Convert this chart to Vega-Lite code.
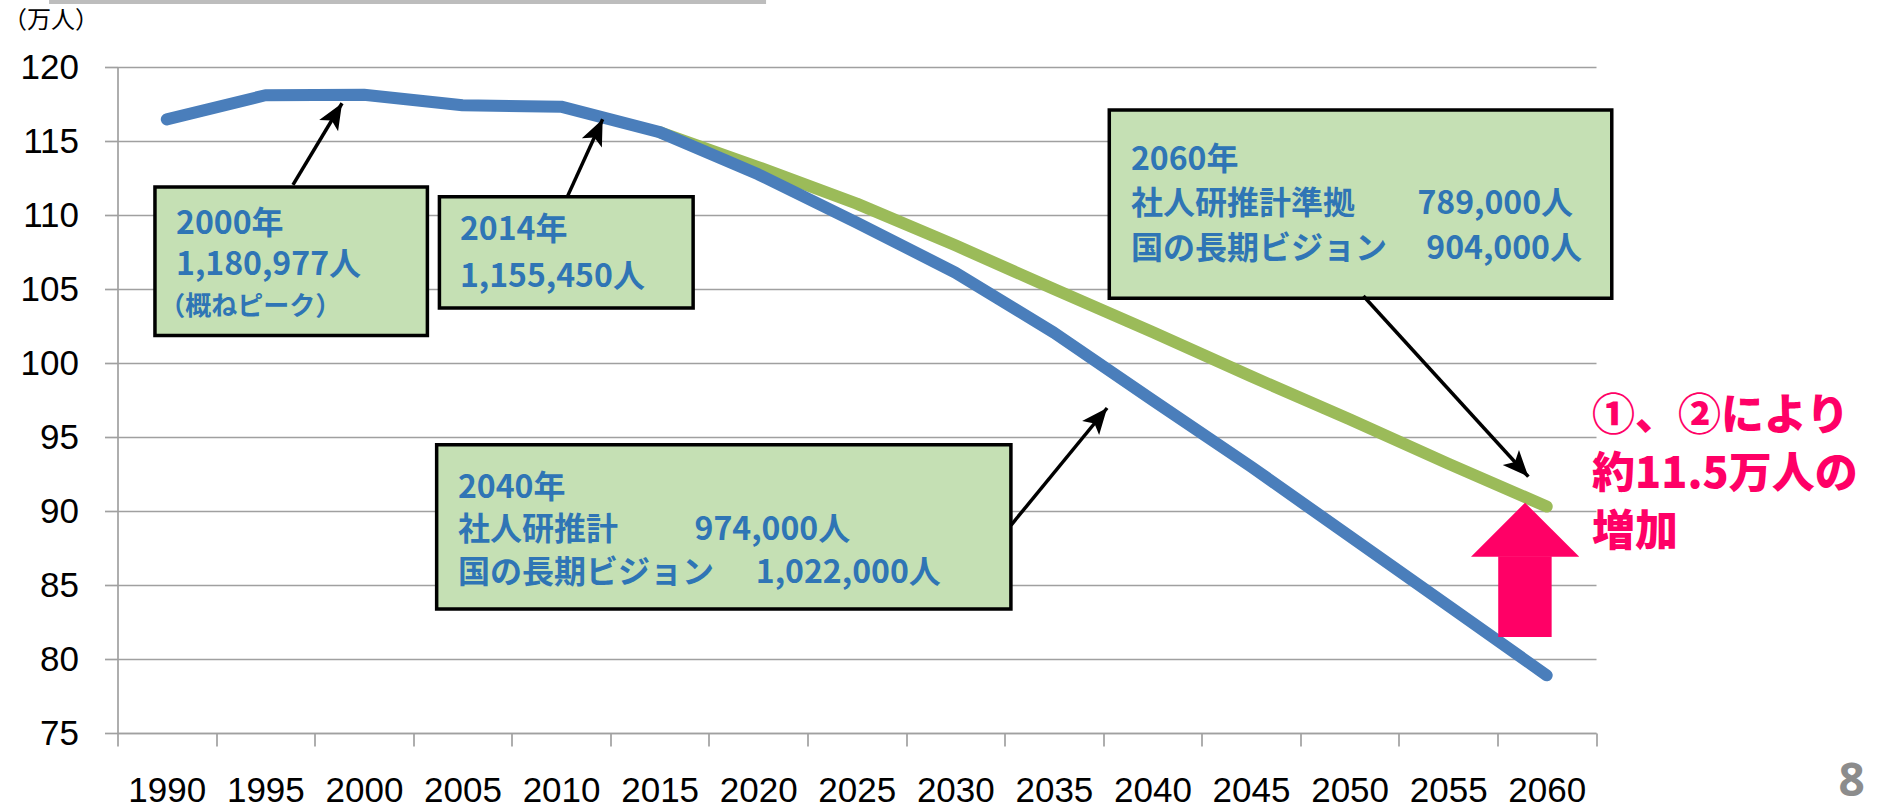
{
  "$schema": "https://vega.github.io/schema/vega-lite/v6.json",
  "width": 1478.5,
  "height": 666,
  "autosize": {"type": "none"},
  "padding": {"left": 117.5, "top": 67, "right": 284, "bottom": 76},
  "background": "white",
  "config": {"view": {"stroke": null}},
  "datasets": {
    "lines": [
      {"x": 1990, "y": 116.46, "s": "社人研推計"},
      {"x": 1995, "y": 118.09, "s": "社人研推計"},
      {"x": 2000, "y": 118.13, "s": "社人研推計"},
      {"x": 2005, "y": 117.41, "s": "社人研推計"},
      {"x": 2010, "y": 117.32, "s": "社人研推計"},
      {"x": 2015, "y": 115.6, "s": "社人研推計"},
      {"x": 2020, "y": 112.75, "s": "社人研推計"},
      {"x": 2025, "y": 109.49, "s": "社人研推計"},
      {"x": 2030, "y": 106.11, "s": "社人研推計"},
      {"x": 2035, "y": 102.05, "s": "社人研推計"},
      {"x": 2040, "y": 97.5, "s": "社人研推計"},
      {"x": 2045, "y": 93.0, "s": "社人研推計"},
      {"x": 2050, "y": 88.3, "s": "社人研推計"},
      {"x": 2055, "y": 83.6, "s": "社人研推計"},
      {"x": 2060, "y": 78.9, "s": "社人研推計"},
      {"x": 2015, "y": 115.6, "s": "国の長期ビジョン"},
      {"x": 2020, "y": 113.24, "s": "国の長期ビジョン"},
      {"x": 2025, "y": 110.77, "s": "国の長期ビジョン"},
      {"x": 2030, "y": 107.95, "s": "国の長期ビジョン"},
      {"x": 2035, "y": 105.0, "s": "国の長期ビジョン"},
      {"x": 2040, "y": 102.1, "s": "国の長期ビジョン"},
      {"x": 2045, "y": 99.1, "s": "国の長期ビジョン"},
      {"x": 2050, "y": 96.2, "s": "国の長期ビジョン"},
      {"x": 2055, "y": 93.2, "s": "国の長期ビジョン"},
      {"x": 2060, "y": 90.3, "s": "国の長期ビジョン"}
    ],
    "boxes": [
      {"x": 1989.40, "x2": 2003.22, "y": 111.89, "y2": 101.85},
      {"x": 2003.83, "x2": 2016.70, "y": 111.24, "y2": 103.72},
      {"x": 2037.81, "x2": 2063.30, "y": 117.09, "y2": 104.37},
      {"x": 2003.69, "x2": 2032.82, "y": 94.47, "y2": 83.38}
    ],
    "boxText": [
      {"x": 1990.47, "y": 109.39, "t": "2000年"},
      {"x": 1990.47, "y": 106.62, "t": "1,180,977人"},
      {"x": 2004.87, "y": 108.99, "t": "2014年"},
      {"x": 2004.87, "y": 105.81, "t": "1,155,450人"},
      {"x": 2038.91, "y": 113.75, "t": "2060年"},
      {"x": 2038.91, "y": 110.76, "t": "社人研推計準拠"},
      {"x": 2053.44, "y": 110.76, "t": "789,000人"},
      {"x": 2038.91, "y": 107.68, "t": "国の長期ビジョン"},
      {"x": 2053.89, "y": 107.68, "t": "904,000人"},
      {"x": 2004.77, "y": 91.55, "t": "2040年"},
      {"x": 2004.77, "y": 88.72, "t": "社人研推計"},
      {"x": 2016.77, "y": 88.72, "t": "974,000人"},
      {"x": 2004.77, "y": 85.81, "t": "国の長期ビジョン"},
      {"x": 2019.88, "y": 85.81, "t": "1,022,000人"}
    ],
    "noteText": [
      {"x": 1989.62, "y": 103.78, "t": "（概ねピーク）"}
    ],
    "arrows": [
      {"x": 1996.40, "y": 112.03, "x2": 1998.89, "y2": 117.55},
      {"x": 2010.32, "y": 111.24, "x2": 2012.11, "y2": 116.47},
      {"x": 2032.83, "y": 89.05, "x2": 2037.70, "y2": 96.96},
      {"x": 2050.70, "y": 104.53, "x2": 2059.07, "y2": 92.32}
    ],
    "pinkShaft": [
      {"x": 2057.54, "x2": 2060.25, "y": 86.95, "y2": 81.49}
    ],
    "pinkHead": [
      {"x": 2056.16, "y": 86.91, "base": 86.91},
      {"x": 2058.90, "y": 90.56, "base": 86.91},
      {"x": 2061.65, "y": 86.91, "base": 86.91}
    ],
    "pinkText": [
      {"x": 2062.30, "y": 96.37, "t": "①、②により"},
      {"x": 2062.30, "y": 92.43, "t": "約11.5万人の"},
      {"x": 2062.30, "y": 88.49, "t": "増加"}
    ],
    "page": [
      {"x": 2075.47, "y": 70.1, "t": "8"}
    ],
    "shadow": [
      {"x": 1984.03, "x2": 2020.40, "y": 124.53, "y2": 124.26}
    ]
  },
  "layer": [
    {
      "data": {"name": "lines"},
      "transform": [{"filter": "datum.s === '国の長期ビジョン'"}],
      "mark": {"type": "line", "strokeWidth": 12, "strokeCap": "round", "strokeJoin": "round", "color": "#9BBB59"},
      "encoding": {
        "x": {
          "field": "x", "type": "quantitative",
          "scale": {"domain": [1987.5, 2062.5], "nice": false, "zero": false},
          "axis": {
            "title": null,
            "values": [1987.5, 1992.5, 1997.5, 2002.5, 2007.5, 2012.5, 2017.5, 2022.5, 2027.5, 2032.5, 2037.5, 2042.5, 2047.5, 2052.5, 2057.5, 2062.5],
            "labelExpr": "datum.value < 2060 ? format(datum.value + 2.5, 'd') : ''",
            "labelOffset": 49.3,
            "labelFont": "Liberation Sans",
            "labelFontSize": 35,
            "labelColor": "#000000",
            "labelPadding": 27,
            "labelBaseline": "top",
            "labelFlush": false,
            "labelOverlap": false,
            "labelBound": false,
            "tickSize": 13,
            "tickColor": "#A0A0A0",
            "tickWidth": 1.7,
            "domainColor": "#A0A0A0",
            "domainWidth": 1.7,
            "grid": false
          }
        },
        "y": {
          "field": "y", "type": "quantitative",
          "scale": {"domain": [75, 120], "nice": false, "zero": false},
          "axis": {
            "title": "（万人）",
            "titleAngle": 0,
            "titleX": -115,
            "titleY": -47,
            "titleAlign": "left",
            "titleBaseline": "middle",
            "titleFont": "Noto Sans CJK JP",
            "titleFontSize": 24,
            "titleFontWeight": "normal",
            "titleColor": "#000000",
            "values": [75, 80, 85, 90, 95, 100, 105, 110, 115, 120],
            "labelFont": "Liberation Sans",
            "labelFontSize": 35,
            "labelColor": "#000000",
            "labelPadding": 26,
            "tickSize": 13,
            "tickColor": "#A0A0A0",
            "tickWidth": 1.7,
            "domainColor": "#A0A0A0",
            "domainWidth": 1.7,
            "grid": true,
            "gridColor": "#A0A0A0",
            "gridWidth": 1.7
          }
        }
      }
    },
    {
      "data": {"name": "lines"},
      "transform": [{"filter": "datum.s === '社人研推計'"}],
      "mark": {"type": "line", "strokeWidth": 12, "strokeCap": "round", "strokeJoin": "round", "color": "#4A7EBB"},
      "encoding": {
        "x": {"field": "x", "type": "quantitative"},
        "y": {"field": "y", "type": "quantitative"}
      }
    },
    {
      "data": {"name": "boxes"},
      "mark": {"type": "rect", "fill": "#C5E0B4", "stroke": "#000000", "strokeWidth": 3.5},
      "encoding": {
        "x": {"field": "x", "type": "quantitative"},
        "x2": {"field": "x2"},
        "y": {"field": "y", "type": "quantitative"},
        "y2": {"field": "y2"}
      }
    },
    {
      "data": {"name": "boxText"},
      "mark": {"type": "text", "align": "left", "baseline": "middle", "font": "Noto Sans CJK JP", "fontWeight": "bold", "fontSize": 32, "color": "#2F75B5"},
      "encoding": {
        "x": {"field": "x", "type": "quantitative"},
        "y": {"field": "y", "type": "quantitative"},
        "text": {"field": "t"}
      }
    },
    {
      "data": {"name": "noteText"},
      "mark": {"type": "text", "align": "left", "baseline": "middle", "font": "Noto Sans CJK JP", "fontWeight": "bold", "fontSize": 26, "color": "#2F75B5"},
      "encoding": {
        "x": {"field": "x", "type": "quantitative"},
        "y": {"field": "y", "type": "quantitative"},
        "text": {"field": "t"}
      }
    },
    {
      "data": {"name": "arrows"},
      "mark": {"type": "rule", "color": "#000000", "strokeWidth": 3.5},
      "encoding": {
        "x": {"field": "x", "type": "quantitative"},
        "y": {"field": "y", "type": "quantitative"},
        "x2": {"field": "x2"},
        "y2": {"field": "y2"}
      }
    },
    {
      "data": {"name": "arrows"},
      "mark": {
        "type": "point",
        "filled": true,
        "color": "#000000",
        "opacity": 1,
        "size": 1600,
        "shape": "M0,0 L0.55,1.3 L0,1 L-0.55,1.3 Z",
        "angle": {"expr": "atan2(scale('x', datum.x2) - scale('x', datum.x), scale('y', datum.y) - scale('y', datum.y2)) * 180 / PI"}
      },
      "encoding": {
        "x": {"field": "x2", "type": "quantitative"},
        "y": {"field": "y2", "type": "quantitative"}
      }
    },
    {
      "data": {"name": "pinkShaft"},
      "mark": {"type": "rect", "fill": "#FF0066"},
      "encoding": {
        "x": {"field": "x", "type": "quantitative"},
        "x2": {"field": "x2"},
        "y": {"field": "y", "type": "quantitative"},
        "y2": {"field": "y2"}
      }
    },
    {
      "data": {"name": "pinkHead"},
      "mark": {"type": "area", "color": "#FF0066", "opacity": 1},
      "encoding": {
        "x": {"field": "x", "type": "quantitative"},
        "y": {"field": "y", "type": "quantitative"},
        "y2": {"field": "base"}
      }
    },
    {
      "data": {"name": "pinkText"},
      "mark": {"type": "text", "align": "left", "baseline": "middle", "font": "Noto Sans CJK JP", "fontWeight": 900, "fontSize": 43, "color": "#FF0066"},
      "encoding": {
        "x": {"field": "x", "type": "quantitative"},
        "y": {"field": "y", "type": "quantitative"},
        "text": {"field": "t"}
      }
    },
    {
      "data": {"name": "page"},
      "mark": {"type": "text", "align": "center", "baseline": "bottom", "font": "Noto Sans", "fontWeight": "bold", "fontSize": 46, "color": "#8C8C8C"},
      "encoding": {
        "x": {"field": "x", "type": "quantitative"},
        "y": {"field": "y", "type": "quantitative"},
        "text": {"field": "t"}
      }
    },
    {
      "data": {"name": "shadow"},
      "mark": {"type": "rect", "fill": "#BDBDBD"},
      "encoding": {
        "x": {"field": "x", "type": "quantitative"},
        "x2": {"field": "x2"},
        "y": {"field": "y", "type": "quantitative"},
        "y2": {"field": "y2"}
      }
    }
  ]
}
